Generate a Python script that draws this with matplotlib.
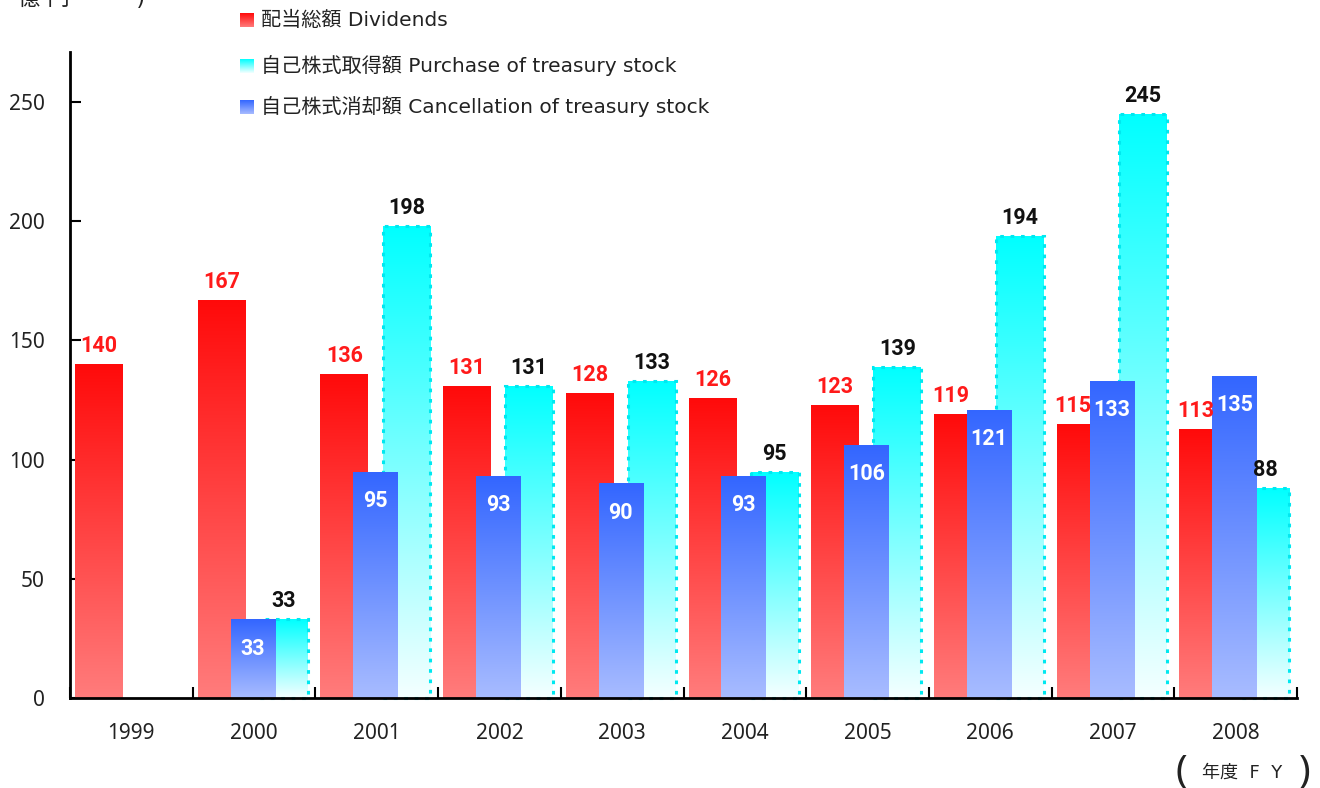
import numpy as np
import matplotlib
matplotlib.use('Agg')
import matplotlib.pyplot as plt
from matplotlib.colors import to_rgb

plt.rcParams['font.family'] = ['Noto Sans', 'Noto Sans CJK JP', 'DejaVu Sans']

years = ['1999', '2000', '2001', '2002', '2003', '2004', '2005', '2006', '2007', '2008']
dividends = [140, 167, 136, 131, 128, 126, 123, 119, 115, 113]
purchase = [None, 33, 198, 131, 133, 95, 139, 194, 245, 88]
cancel = [None, 33, 95, 93, 90, 93, 106, 121, 133, 135]

labels = ['配当総額 Dividends',
          '自己株式取得額 Purchase of treasury stock',
          '自己株式消却額 Cancellation of treasury stock']

red_grad = ['#ff0a0a', '#ff7c7c']
cyan_grad = ['#00ffff', '#f4ffff']
blue_grad = ['#3366ff', '#a8bcff']

num_font = ['Roboto', 'DejaVu Sans']
jp_font = ['DejaVu Sans', 'Noto Sans CJK JP']


def grad_img(c_top, c_bot):
    t = np.linspace(0, 1, 256)[:, None, None]
    a = np.array(to_rgb(c_top))[None, None, :]
    b = np.array(to_rgb(c_bot))[None, None, :]
    return a * (1 - t) + b * t


def gradient_bars(ax, x, vals, width, cols, z, **kw):
    xs = [xi for xi, v in zip(x, vals) if v is not None]
    vs = [v for v in vals if v is not None]
    bars = ax.bar(xs, vs, width, color='none', zorder=z, **kw)
    img = grad_img(*cols)
    for b in bars:
        x0 = b.get_x()
        h = b.get_height()
        im = ax.imshow(img, extent=(x0, x0 + b.get_width(), 0, h), origin='upper',
                       aspect='auto', zorder=z - 0.5, interpolation='bilinear')
        im.set_clip_path(b)
    return bars


fig = plt.figure(figsize=(13.2, 7.88), dpi=100)
ax = fig.add_axes([0.053, 0.1142, 0.9297, 0.8198])

x = np.arange(len(years))
red_w, blue_w, cyan_w = 0.39, 0.36, 0.39
red_x = x - 0.264
blue_x = x - 0.011
red_bars = gradient_bars(ax, red_x, dividends, red_w, red_grad, 3)
cyan_bars = gradient_bars(ax, x + 0.242, purchase, cyan_w, cyan_grad, 5,
                          edgecolor='#00e8f0', linewidth=2.2, linestyle=(0, (1.2, 2.2)))
for b in cyan_bars:
    b.set_clip_on(False)
blue_bars = gradient_bars(ax, blue_x, cancel, blue_w, blue_grad, 7)

# red labels sit over the part of the red bar that the blue bar leaves visible
for i, v in enumerate(dividends):
    left = red_x[i] - red_w / 2
    right = red_x[i] + red_w / 2
    if cancel[i] is not None and cancel[i] > v:
        right = blue_x[i] - blue_w / 2
    ax.annotate(str(v), ((left + right) / 2, v), xytext=(0, 5),
                textcoords='offset points', ha='center', va='bottom', family=num_font,
                color='#ff1a1a', fontsize=15.5, fontweight='bold', zorder=10)
for b, v in zip(cyan_bars, [p for p in purchase if p is not None]):
    ax.annotate(str(v), (b.get_x() + b.get_width() / 2, v), xytext=(0, 5),
                textcoords='offset points', ha='center', va='bottom', family=num_font,
                color='#111111', fontsize=15.5, fontweight='bold', zorder=10)
for b, v in zip(blue_bars, [c for c in cancel if c is not None]):
    ax.annotate(str(v), (b.get_x() + b.get_width() / 2, v), xytext=(0, -21),
                textcoords='offset points', ha='center', va='center', family=num_font,
                color='white', fontsize=15.5, fontweight='bold', zorder=10)

ax.set_xlim(-0.5, len(years) - 0.5)
ax.set_ylim(0, 271)
ax.set_yticks([0, 50, 100, 150, 200, 250])
ax.set_xticks(np.arange(len(years) + 1) - 0.5)
ax.set_xticklabels([])
ax.set_xticks(x, years, minor=True)
ax.tick_params(axis='x', which='major', direction='in', length=8, width=1.5)
ax.tick_params(axis='x', which='minor', length=0, pad=18, labelsize=15, labelcolor='#222222')
ax.tick_params(axis='y', direction='in', length=8, width=1.5, pad=18, labelsize=15,
               labelcolor='#222222')
for s in ['top', 'right']:
    ax.spines[s].set_visible(False)
ax.spines['left'].set_linewidth(2)
ax.spines['bottom'].set_linewidth(2)
ax.spines['bottom'].set_zorder(12)

# legend drawn by hand
leg_y = [20, 66, 107]
leg_cols = [red_grad, cyan_grad, blue_grad]
W, H = 1320, 788
for yy, txt, cols in zip(leg_y, labels, leg_cols):
    sq = fig.add_axes([240 / W, 1 - (yy + 7) / H, 14 / W, 14 / H])
    sq.imshow(grad_img(*cols), aspect='auto', interpolation='bilinear')
    sq.axis('off')
    fig.text(261 / W, 1 - yy / H, txt, ha='left', va='center', fontsize=14.5,
             color='#222222', family=jp_font)

# unit label (cut at top, as in the source image)
fig.text(18 / W, 1 + 2 / H, '億 円　　　)', ha='left', va='center', fontsize=16,
         color='#222222', family=jp_font)

# x axis caption
fig.text(1242 / W, 1 - 773 / H, '年度  F  Y', ha='center', va='center', fontsize=13,
         color='#222222', family=jp_font)
fig.text(1181 / W, 1 - 771 / H, '(', ha='center', va='center', fontsize=28,
         color='#222222', fontweight='light')
fig.text(1305 / W, 1 - 771 / H, ')', ha='center', va='center', fontsize=28,
         color='#222222', fontweight='light')

fig.savefig('out.png', dpi=100)
